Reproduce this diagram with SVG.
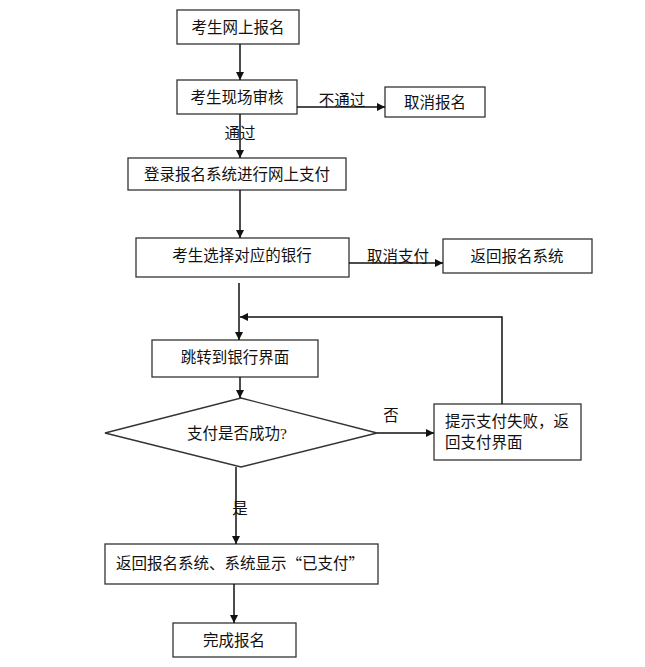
<svg xmlns="http://www.w3.org/2000/svg" width="645" height="667" viewBox="0 0 645 667">
<defs>
<marker id="ah" viewBox="0 0 10 10" refX="10" refY="5" markerWidth="8" markerHeight="8" markerUnits="userSpaceOnUse" orient="auto">
<path d="M0,0 L10,5 L0,10 z" fill="#111"/>
</marker>
<style>
.box{fill:#fff;stroke:#333;stroke-width:1.3}
.t{font-family:"Liberation Serif","Noto Sans CJK SC",serif;font-size:15.5px;fill:#111;text-anchor:middle;dominant-baseline:central}
.tl{font-family:"Liberation Serif","Noto Sans CJK SC",serif;font-size:15.5px;fill:#111}
.q{font-family:"Noto Sans CJK SC",sans-serif}
.c{fill:none;stroke:#111;stroke-width:1.5}
</style>
</defs>
<rect width="645" height="667" fill="#fff"/>
<g id="n1"><rect class="box" x="177" y="10" width="122" height="34"/><text class="t" x="238" y="27">考生网上报名</text></g>
<g id="n2"><rect class="box" x="177" y="80" width="120" height="34"/><text class="t" x="237" y="97">考生现场审核</text></g>
<g id="n3"><rect class="box" x="385" y="87" width="100" height="30"/><text class="t" x="435" y="102">取消报名</text></g>
<g id="n4"><rect class="box" x="128" y="158" width="218" height="32"/><text class="t" x="237" y="174">登录报名系统进行网上支付</text></g>
<g id="n5"><rect class="box" x="136" y="238" width="213" height="39"/><text class="t" x="242" y="255">考生选择对应的银行</text></g>
<g id="n6"><rect class="box" x="443" y="239" width="149" height="34"/><text class="t" x="517" y="256">返回报名系统</text></g>
<g id="n7"><rect class="box" x="152" y="340" width="166" height="37"/><text class="t" x="235" y="357">跳转到银行界面</text></g>
<g id="n8"><polygon class="box" points="241,398 377,433 241,467 105,433"/><text class="t" x="237" y="433">支付是否成功?</text></g>
<g id="n9"><rect class="box" x="434" y="404" width="147" height="56"/><text class="tl" x="445" y="427">提示支付失败，返</text><text class="tl" x="445" y="448">回支付界面</text></g>
<g id="n10"><rect class="box" x="105" y="544" width="273" height="40"/><text class="t" x="240" y="563">返回报名系统、系统显示<tspan class="q">“</tspan>已支付<tspan class="q">”</tspan></text></g>
<g id="n11"><rect class="box" x="173" y="623" width="123" height="34"/><text class="t" x="234" y="640">完成报名</text></g>
<g id="connectors">
<line class="c" x1="240" y1="44" x2="240" y2="80" marker-end="url(#ah)"/>
<line class="c" x1="297" y1="107" x2="385" y2="107" marker-end="url(#ah)"/>
<text class="t" x="342" y="100">不通过</text>
<line class="c" x1="240" y1="114" x2="240" y2="158" marker-end="url(#ah)"/>
<text class="t" x="240" y="133">通过</text>
<line class="c" x1="240" y1="190" x2="240" y2="238" marker-end="url(#ah)"/>
<line class="c" x1="349" y1="263" x2="443" y2="263" marker-end="url(#ah)"/>
<text class="t" x="398" y="256">取消支付</text>
<line class="c" x1="239" y1="283" x2="239" y2="340" marker-end="url(#ah)"/>
<polyline class="c" points="502,404 502,317 240,317" marker-end="url(#ah)"/>
<line class="c" x1="240" y1="377" x2="240" y2="398" marker-end="url(#ah)"/>
<line class="c" x1="377" y1="433" x2="434" y2="433" marker-end="url(#ah)"/>
<text class="t" x="391" y="415">否</text>
<line class="c" x1="236" y1="467" x2="236" y2="544" marker-end="url(#ah)"/>
<text class="t" x="240" y="508">是</text>
<line class="c" x1="234" y1="584" x2="234" y2="623" marker-end="url(#ah)"/>
</g>
</svg>
